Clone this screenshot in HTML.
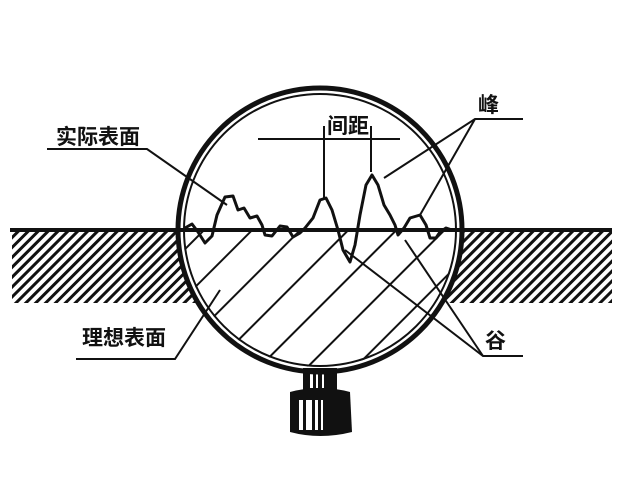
<!DOCTYPE html>
<html><head><meta charset="utf-8"><style>
body{margin:0;background:#fff}
svg{display:block}
text{font-family:"Liberation Sans","Noto Sans CJK SC",sans-serif;font-weight:bold;font-size:21px;fill:#111}
</style></head><body>
<svg width="626" height="500" viewBox="0 0 626 500" xmlns="http://www.w3.org/2000/svg">
<defs>
<pattern id="fine" patternUnits="userSpaceOnUse" width="7" height="7" patternTransform="rotate(45)">
<rect x="0" y="0" width="3" height="7" fill="#111"/>
</pattern>
<pattern id="wide" patternUnits="userSpaceOnUse" width="34" height="34" patternTransform="rotate(45)">
<rect x="0" y="0" width="2" height="34" fill="#111"/>
</pattern>
<clipPath id="inner"><circle cx="320" cy="230" r="137"/></clipPath>
</defs>
<rect x="12" y="231" width="600" height="72" fill="url(#fine)"/>
<circle cx="320" cy="230" r="143" fill="#fff"/>
<g clip-path="url(#inner)">
<rect x="170" y="231" width="300" height="150" fill="url(#wide)"/>
</g>
<!-- base -->
<rect x="303" y="368" width="34" height="22" fill="#111"/>
<rect x="310" y="374" width="3" height="14" fill="#fff"/><rect x="316" y="374" width="2" height="14" fill="#fff"/><rect x="322" y="374" width="2" height="14" fill="#fff"/>
<path d="M290 392 Q320 384 350 392 L352 432 Q320 440 290 432 Z" fill="#111"/>
<rect x="299" y="400" width="4" height="30" fill="#fff"/><rect x="306" y="400" width="6" height="30" fill="#fff"/><rect x="315" y="400" width="3" height="30" fill="#fff"/><rect x="321" y="400" width="2" height="30" fill="#fff"/>
<!-- ideal line -->
<line x1="10" y1="230" x2="612" y2="230" stroke="#111" stroke-width="4"/>
<!-- profile -->
<polyline fill="none" stroke="#111" stroke-width="3" stroke-linejoin="round" points="185,228 192,224 198,232 205,243 212,236 217,215 225,197 233,196 238,210 244,208 250,218 257,216 262,225 265,235 272,236 280,226 287,227 293,237 300,233 305,228 313,218 320,200 326,198 332,210 338,230 343,250 350,262 355,245 360,215 366,185 372,175 378,185 384,205 390,215 395,225 398,235 404,228 410,218 420,215 426,225 430,238 436,238 440,232 446,228 452,230"/>
<!-- circle -->
<circle cx="320" cy="230" r="142" fill="none" stroke="#111" stroke-width="5"/>
<circle cx="320" cy="230" r="136" fill="none" stroke="#111" stroke-width="2"/>
<!-- spacing dimension -->
<line x1="258" y1="139" x2="400" y2="139" stroke="#111" stroke-width="2"/>
<line x1="324" y1="126" x2="324" y2="198" stroke="#111" stroke-width="2"/>
<line x1="371" y1="126" x2="371" y2="172" stroke="#111" stroke-width="2"/>
<text x="327" y="133" font-size="19">间距</text>
<!-- labels -->
<text x="56" y="144">实际表面</text>
<polyline fill="none" stroke="#111" stroke-width="2" points="47,149 147,149 227,205"/>
<text x="82" y="345">理想表面</text>
<polyline fill="none" stroke="#111" stroke-width="2" points="76,359 175,359 220,290"/>
<text x="478" y="112">峰</text>
<polyline fill="none" stroke="#111" stroke-width="2" points="384,178 475,119 523,119"/>
<line x1="475" y1="119" x2="420" y2="215" stroke="#111" stroke-width="2"/>
<text x="485" y="348">谷</text>
<polyline fill="none" stroke="#111" stroke-width="2" points="345,250 483,356 523,356"/>
<line x1="483" y1="356" x2="405" y2="240" stroke="#111" stroke-width="2"/>
</svg>
</body></html>
